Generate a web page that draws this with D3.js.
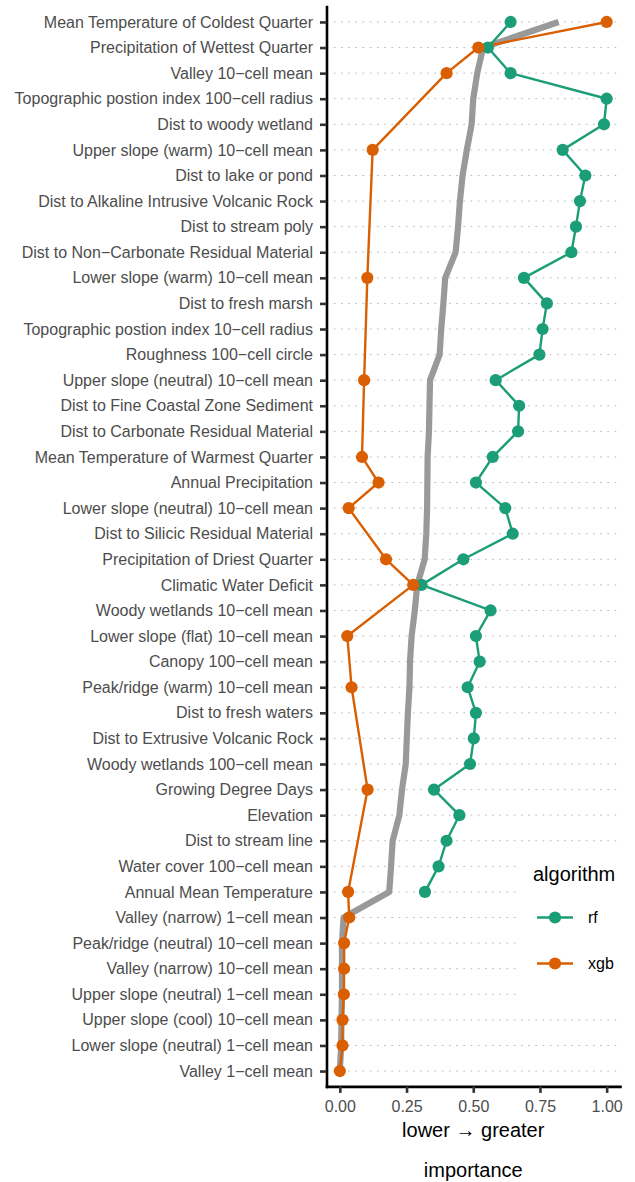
<!DOCTYPE html>
<html>
<head>
<meta charset="utf-8">
<script src="https://cdn.jsdelivr.net/npm/d3@7"></script>
<style>
    body { margin: 0; background: #fff; }
    text { font-family: 'Liberation Sans', Arial, Helvetica, sans-serif; }
</style>
</head>
<body>
<div id="main-chart"></div>
<script>
// Features, top to bottom
let features = [
    'Mean Temperature of Coldest Quarter',
    'Precipitation of Wettest Quarter',
    'Valley 10\u2212cell mean',
    'Topographic postion index 100\u2212cell radius',
    'Dist to woody wetland',
    'Upper slope (warm) 10\u2212cell mean',
    'Dist to lake or pond',
    'Dist to Alkaline Intrusive Volcanic Rock',
    'Dist to stream poly',
    'Dist to Non\u2212Carbonate Residual Material',
    'Lower slope (warm) 10\u2212cell mean',
    'Dist to fresh marsh',
    'Topographic postion index 10\u2212cell radius',
    'Roughness 100\u2212cell circle',
    'Upper slope (neutral) 10\u2212cell mean',
    'Dist to Fine Coastal Zone Sediment',
    'Dist to Carbonate Residual Material',
    'Mean Temperature of Warmest Quarter',
    'Annual Precipitation',
    'Lower slope (neutral) 10\u2212cell mean',
    'Dist to Silicic Residual Material',
    'Precipitation of Driest Quarter',
    'Climatic Water Deficit',
    'Woody wetlands 10\u2212cell mean',
    'Lower slope (flat) 10\u2212cell mean',
    'Canopy 100\u2212cell mean',
    'Peak/ridge (warm) 10\u2212cell mean',
    'Dist to fresh waters',
    'Dist to Extrusive Volcanic Rock',
    'Woody wetlands 100\u2212cell mean',
    'Growing Degree Days',
    'Elevation',
    'Dist to stream line',
    'Water cover 100\u2212cell mean',
    'Annual Mean Temperature',
    'Valley (narrow) 1\u2212cell mean',
    'Peak/ridge (neutral) 10\u2212cell mean',
    'Valley (narrow) 10\u2212cell mean',
    'Upper slope (neutral) 1\u2212cell mean',
    'Upper slope (cool) 10\u2212cell mean',
    'Lower slope (neutral) 1\u2212cell mean',
    'Valley 1\u2212cell mean'
];

// Importance by algorithm (null = feature not used)
let rf = [0.64, 0.555, 0.64, 1.00, 0.99, 0.835, 0.92, 0.90, 0.885, 0.868,
    0.69, 0.776, 0.76, 0.748, 0.584, 0.672, 0.668, 0.573, 0.51, 0.62,
    0.648, 0.463, 0.306, 0.565, 0.51, 0.524, 0.479, 0.51, 0.502, 0.488,
    0.353, 0.448, 0.40, 0.37, 0.319, null, null, null, null, null,
    null, null];
let xgb = [1.00, 0.519, 0.40, null, null, 0.123, null, null, null, null,
    0.103, null, null, null, 0.091, null, null, 0.083, 0.145, 0.033,
    null, 0.173, 0.275, null, 0.028, null, 0.044, null, null, null,
    0.104, null, null, null, 0.031, 0.035, 0.016, 0.016, 0.015, 0.010,
    0.010, 0.0];

// Overall importance (grey line)
let overall = [0.82, 0.537, 0.515, 0.50, 0.494, 0.476, 0.46, 0.45, 0.443, 0.434,
    0.395, 0.388, 0.38, 0.374, 0.338, 0.336, 0.334, 0.329, 0.328, 0.327,
    0.324, 0.318, 0.29, 0.281, 0.269, 0.263, 0.261, 0.255, 0.251, 0.247,
    0.233, 0.223, 0.198, 0.192, 0.185, 0.014, 0.008, 0.008, 0.008, 0.006,
    0.005, 0.0];

let xTicks = [0, 0.25, 0.5, 0.75, 1];

let algorithms = ['rf', 'xgb'];
let colors = { rf: '#1B9E77', xgb: '#D95F02' };
let series = { rf: rf, xgb: xgb };

// Set dimensions and margins
let width = 635,
    height = 1182,
    panel = { left: 326.5, right: 620, top: 6.6, bottom: 1086.4 };

// Set ranges
let x = d3.scaleLinear()
    .domain([-0.05, 1.05])
    .range([panel.left, panel.right]);
let y = d3.scalePoint()
    .domain(features)
    .range([panel.top, panel.bottom])
    .padding(0.6);

let svg = d3.select('#main-chart')
    .append('svg')
    .attr('width', width)
    .attr('height', height);

// Dotted grid lines
svg.append('g')
    .selectAll('line')
    .data(features)
    .enter().append('line')
    .attr('x1', panel.left)
    .attr('x2', panel.right)
    .attr('y1', function (d) { return y(d); })
    .attr('y2', function (d) { return y(d); })
    .attr('stroke', '#BDBDBD')
    .attr('stroke-width', 1)
    .attr('stroke-dasharray', '1.8,5.4');

// Legend background covers the grid
let legendX = 517,
    legendY = 849;
svg.append('rect')
    .attr('x', legendX)
    .attr('y', legendY)
    .attr('width', width - legendX)
    .attr('height', 152)
    .attr('fill', '#fff');

// Overall line
let line_overall = d3.line()
    .x(function (d) { return x(d.v); })
    .y(function (d) { return y(d.f); });

svg.append('path')
    .datum(features.map(function (f, i) { return { f: f, v: overall[i] }; }))
    .attr('fill', 'none')
    .attr('stroke', '#999999')
    .attr('stroke-width', 6.2)
    .attr('stroke-linejoin', 'round')
    .attr('d', line_overall);

// Algorithm lines and points
function seriesData(a) {
    return features
        .map(function (f, i) { return { f: f, v: series[a][i] }; })
        .filter(function (d) { return d.v !== null; });
}

algorithms.forEach(function (a) {
    svg.append('path')
        .datum(seriesData(a))
        .attr('fill', 'none')
        .attr('stroke', colors[a])
        .attr('stroke-width', 2.4)
        .attr('stroke-linejoin', 'round')
        .attr('d', line_overall);
});

algorithms.forEach(function (a) {
    svg.append('g')
        .selectAll('circle')
        .data(seriesData(a))
        .enter().append('circle')
        .attr('cx', function (d) { return x(d.v); })
        .attr('cy', function (d) { return y(d.f); })
        .attr('r', 6.1)
        .attr('fill', colors[a]);
});

// Axes
let yAxis = svg.append('g')
    .attr('transform', 'translate(' + panel.left + ',0)')
    .call(d3.axisLeft(y).tickSize(6.5).tickSizeOuter(0).tickPadding(7));

let xAxis = svg.append('g')
    .attr('transform', 'translate(0,' + panel.bottom + ')')
    .call(d3.axisBottom(x).tickValues(xTicks).tickFormat(d3.format('.2f'))
        .tickSize(6.5).tickSizeOuter(0).tickPadding(7.5));

[yAxis, xAxis].forEach(function (g) {
    g.select('.domain')
        .attr('stroke', '#000')
        .attr('stroke-width', 2.6)
        .attr('stroke-linecap', 'square');
    g.selectAll('.tick line')
        .attr('stroke', '#333')
        .attr('stroke-width', 2.6);
    g.selectAll('.tick text')
        .attr('fill', '#4D4D4D')
        .style('font-size', '16px')
        .style('font-family', "'Liberation Sans', Arial, sans-serif");
});

// Axis titles
svg.append('text')
    .attr('x', (panel.left + panel.right) / 2)
    .attr('y', 1137)
    .attr('text-anchor', 'middle')
    .style('font-size', '20px')
    .text('lower \u2192 greater');

svg.append('text')
    .attr('x', (panel.left + panel.right) / 2)
    .attr('y', 1177)
    .attr('text-anchor', 'middle')
    .style('font-size', '20px')
    .text('importance');

// Legend
svg.append('text')
    .attr('x', 533)
    .attr('y', 881)
    .style('font-size', '20px')
    .text('algorithm');

let legend = svg.append('g')
    .selectAll('g')
    .data(algorithms)
    .enter().append('g')
    .attr('transform', function (d, i) { return 'translate(555,' + (917.5 + i * 46) + ')'; });

legend.append('line')
    .attr('x1', -18)
    .attr('x2', 18)
    .attr('stroke', function (d) { return colors[d]; })
    .attr('stroke-width', 2.4);

legend.append('circle')
    .attr('r', 6.1)
    .attr('fill', function (d) { return colors[d]; });

legend.append('text')
    .attr('x', 33)
    .attr('dy', '0.35em')
    .style('font-size', '16px')
    .text(function (d) { return d; });
</script>
</body>
</html>
